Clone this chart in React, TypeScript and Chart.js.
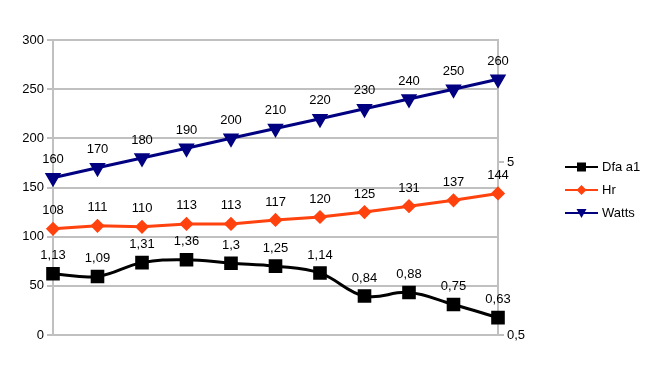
import React, { useEffect, useRef } from "react";
import { Chart, registerables } from "chart.js";

Chart.register(...registerables);

const categories = ["1", "2", "3", "4", "5", "6", "7", "8", "9", "10", "11"];
const dfaValues = [1.13, 1.09, 1.31, 1.36, 1.3, 1.25, 1.14, 0.84, 0.88, 0.75, 0.63];
const hrValues = [108, 111, 110, 113, 113, 117, 120, 125, 131, 137, 144];
const wattsValues = [160, 170, 180, 190, 200, 210, 220, 230, 240, 250, 260];
const leftTicks = [0, 50, 100, 150, 200, 250, 300];
const rightTicks = [0.5, 5];

const FONT = '"Liberation Sans", Arial, sans-serif';
const fmt = (v: number) => String(v).replace(".", ",");

const labelPlugin = {
  id: "valueLabels",
  afterDatasetsDraw(chart: any) {
    const ctx = chart.ctx;
    ctx.save();
    ctx.font = `13px ${FONT}`;
    ctx.fillStyle = "#000";
    ctx.textAlign = "center";
    ctx.textBaseline = "middle";
    chart.data.datasets.forEach((ds: any, i: number) => {
      const meta = chart.getDatasetMeta(i);
      meta.data.forEach((pt: any, j: number) => {
        ctx.fillText(fmt(ds.data[j]), pt.x, pt.y - 18);
      });
    });
    ctx.restore();
  },
};

const legendPlugin = {
  id: "customLegend",
  afterDraw(chart: any) {
    const ctx = chart.ctx;
    ctx.save();
    ctx.font = `13px ${FONT}`;
    ctx.textBaseline = "middle";
    ctx.textAlign = "left";
    const x0 = 565;
    const x1 = 598;
    const cx = (x0 + x1) / 2;
    const rows = [167, 190, 213];
    chart.data.datasets.forEach((ds: any, i: number) => {
      const y = rows[i];
      ctx.strokeStyle = ds.borderColor;
      ctx.lineWidth = 2;
      ctx.beginPath();
      ctx.moveTo(x0, y);
      ctx.lineTo(x1, y);
      ctx.stroke();
      ctx.fillStyle = ds.borderColor;
      ctx.beginPath();
      if (i === 0) {
        ctx.rect(cx - 4.5, y - 4.5, 9, 9);
      } else if (i === 1) {
        ctx.moveTo(cx, y - 5);
        ctx.lineTo(cx + 5, y);
        ctx.lineTo(cx, y + 5);
        ctx.lineTo(cx - 5, y);
        ctx.closePath();
      } else {
        ctx.moveTo(cx - 5, y - 4);
        ctx.lineTo(cx + 5, y - 4);
        ctx.lineTo(cx, y + 5);
        ctx.closePath();
      }
      ctx.fill();
      ctx.fillStyle = "#000";
      ctx.fillText(ds.label, x1 + 4, y);
    });
    ctx.restore();
  },
};

export default function App() {
  const ref = useRef<HTMLCanvasElement>(null);
  useEffect(() => {
    if (!ref.current) return;
    const chart = new Chart(ref.current, {
      type: "line",
      data: {
        labels: categories,
        datasets: [
          {
            label: "Dfa a1",
            data: dfaValues,
            yAxisID: "y1",
            borderColor: "#000000",
            backgroundColor: "#000000",
            borderWidth: 3,
            tension: 0.4,
            pointStyle: "rect",
            pointRadius: 7.5,
            pointHoverRadius: 7.5,
            clip: false,
          },
          {
            label: "Hr",
            data: hrValues,
            yAxisID: "y",
            borderColor: "#ff420e",
            backgroundColor: "#ff420e",
            borderWidth: 3,
            tension: 0,
            pointStyle: "rectRot",
            pointRadius: 5,
            pointHoverRadius: 5,
            clip: false,
          },
          {
            label: "Watts",
            data: wattsValues,
            yAxisID: "y",
            borderColor: "#000080",
            backgroundColor: "#000080",
            borderWidth: 3,
            tension: 0,
            pointStyle: "triangle",
            rotation: 180,
            pointRadius: 6.5,
            pointHoverRadius: 6.5,
            clip: false,
          },
        ],
      },
      options: {
        animation: false,
        responsive: true,
        maintainAspectRatio: false,
        layout: { padding: { left: 0, right: 119, top: 40, bottom: 50 } },
        plugins: { legend: { display: false }, tooltip: { enabled: false } },
        scales: {
          x: { display: false, offset: false },
          y: {
            position: "left",
            min: 0,
            max: 300,
            afterFit(scale: any) {
              scale.width = 53;
            },
            afterBuildTicks(scale: any) {
              scale.ticks = leftTicks.map((v) => ({ value: v }));
            },
            grid: { color: "#c0c0c0", lineWidth: 2, tickLength: 6 },
            border: { color: "#c0c0c0", width: 2 },
            ticks: { color: "#000", font: { family: FONT, size: 13 }, padding: 3 },
          },
          y1: {
            type: "logarithmic",
            position: "right",
            min: 0.5,
            max: 25.35,
            afterFit(scale: any) {
              scale.width = 30;
            },
            afterBuildTicks(scale: any) {
              scale.ticks = rightTicks.map((v) => ({ value: v }));
            },
            grid: { drawOnChartArea: false, color: "#c0c0c0", lineWidth: 2, tickLength: 6 },
            border: { color: "#c0c0c0", width: 2 },
            ticks: {
              color: "#000",
              font: { family: FONT, size: 13 },
              padding: 3,
              callback: (v: any) => fmt(Number(v)),
            },
          },
        },
      },
      plugins: [labelPlugin, legendPlugin],
    });
    return () => chart.destroy();
  }, []);
  return (
    <div style={{ position: "fixed", left: 0, top: 0, width: 647, height: 385, background: "#fff" }}>
      <canvas ref={ref} />
    </div>
  );
}
